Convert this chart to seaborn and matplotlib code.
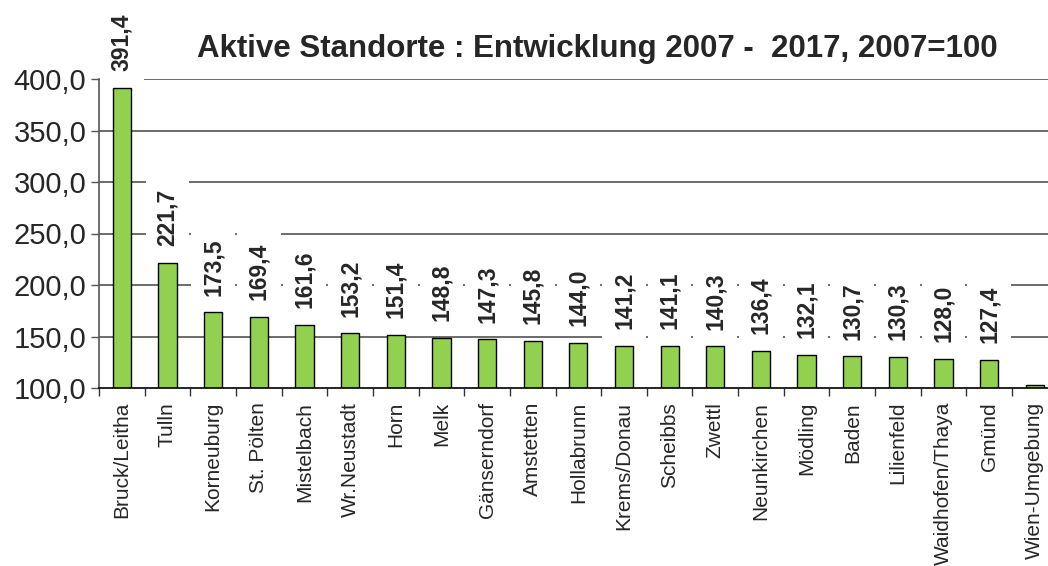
import matplotlib
matplotlib.use("Agg")
import matplotlib.pyplot as plt
import seaborn as sns
import numpy as np
import pandas as pd

# ---- data ----
districts = ["Bruck/Leitha", "Tulln", "Korneuburg", "St. Pölten", "Mistelbach",
             "Wr.Neustadt", "Horn", "Melk", "Gänserndorf", "Amstetten",
             "Hollabrunn", "Krems/Donau", "Scheibbs", "Zwettl", "Neunkirchen",
             "Mödling", "Baden", "Lilienfeld", "Waidhofen/Thaya", "Gmünd",
             "Wien-Umgebung"]
index_values = [391.4, 221.7, 173.5, 169.4, 161.6, 153.2, 151.4, 148.8, 147.3,
                145.8, 144.0, 141.2, 141.1, 140.3, 136.4, 132.1, 130.7, 130.3,
                128.0, 127.4, 102.5]
show_label = [True] * 20 + [False]
y_ticks = [100, 150, 200, 250, 300, 350, 400]
title = "Aktive Standorte : Entwicklung 2007 -  2017, 2007=100"

def de(v):
    return f"{v:.1f}".replace(".", ",")

df = pd.DataFrame({"district": districts, "value": index_values})

sns.set_style("white")
plt.rcParams["font.family"] = ["Liberation Sans", "DejaVu Sans"]

W, H = 1048, 566
fig = plt.figure(figsize=(W / 100, H / 100), dpi=100)
left, right, top, bottom = 99, 1057.7, 79, 388
ax = fig.add_axes([left / W, 1 - bottom / H, (right - left) / W, (bottom - top) / H])

sns.barplot(data=df, x="district", y="value", color="#92D050", saturation=1,
            edgecolor="black", linewidth=1.0, width=0.4, ax=ax, zorder=2)

ax.set_ylim(100, 400)
ax.set_xlim(-0.5, len(districts) - 0.5)
ax.set_yticks(y_ticks)
ax.set_yticklabels([de(v) for v in y_ticks], fontsize=21)
ax.set_xlabel("")
ax.set_ylabel("")

# gridlines
for v in y_ticks[1:]:
    ax.axhline(v, color="#444444", lw=1.1, zorder=0)

# x ticks: labels at centers, tick marks at boundaries
ax.set_xticks(range(len(districts)))
ax.set_xticklabels(districts, rotation=90, fontsize=15)
ax.tick_params(axis="x", which="major", length=0, pad=10)
ax.set_xticks(np.arange(-0.5, len(districts), 1.0), minor=True)
ax.tick_params(axis="x", which="minor", length=6, width=1, color="#333333",
               direction="out", bottom=True)
ax.tick_params(axis="y", length=6, width=1, color="#555555", direction="out",
               left=True, pad=3)

for s in ["top", "right"]:
    ax.spines[s].set_visible(False)
ax.spines["left"].set_color("#555555")
ax.spines["bottom"].set_color("black")
ax.spines["left"].set_linewidth(1.2)
ax.spines["bottom"].set_linewidth(1.2)

# value labels
for i, (v, show) in enumerate(zip(index_values, show_label)):
    if not show:
        continue
    ax.annotate(de(v), xy=(i, v), xytext=(0, 12), textcoords="offset points",
                rotation=90, ha="center", va="bottom", fontsize=16.5,
                fontweight="bold", zorder=5, annotation_clip=False,
                bbox=dict(boxstyle="square,pad=0.45", facecolor="white",
                          edgecolor="none"))

fig.text(597 / W, 1 - 49 / H, title, ha="center", va="center",
         fontsize=22.5, fontweight="bold")

fig.savefig("out.png", dpi=100)
